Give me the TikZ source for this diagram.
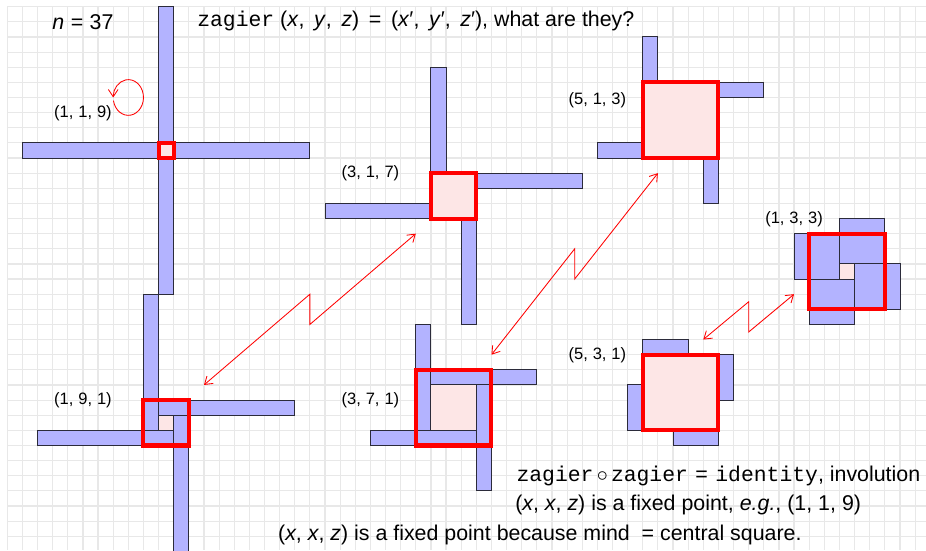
\documentclass[tikz,border=0pt]{standalone}
\usepackage{fontspec}
\setmainfont{Liberation Sans}
\setmonofont{Liberation Mono}
\usepackage{tikz}
\usetikzlibrary{arrows.meta,calc}
\definecolor{wmArm}{HTML}{B3B3FF}
\definecolor{wmCore}{HTML}{FDE6E6}
\definecolor{wmMind}{HTML}{FF0000}
\definecolor{wmEdge}{HTML}{2B2B3A}
\definecolor{wmGrid}{HTML}{E8E8E8}
\newcommand{\wmUnit}{0.5cm}
\newcommand{\va}[1]{\textit{#1}}
\newcommand{\cs}{,\hspace{.45em}}
\newcommand{\eqs}{\hspace{.45em}=\hspace{.45em}}
\newcommand{\trip}[3]{(#1,\hspace{.3em}#2,\hspace{.3em}#3)}
\newcommand{\nTxt}{\va{n}\hspace{.3em}=\hspace{.3em}37}
\newcommand{\headTxt}{\texttt{zagier} (\va{x}\cs\va{y}\cs\va{z})\eqs(\va{x}′\cs\va{y}′\cs\va{z}′), what are they?}
\newcommand{\invTxt}{\texttt{zagier}\hspace{.15em}$\circ$\hspace{.15em}\texttt{zagier}\hspace{.35em}=\hspace{.35em}\texttt{identity}, involution}
\newcommand{\fixTxt}{(\va{x}, \va{x}, \va{z}) is a fixed point, \textit{e.g.}, (1, 1, 9)}
\newcommand{\whyTxt}{(\va{x}, \va{x}, \va{z}) is a fixed point because mind\ \ = central square.}
% windmill: core corner a, b; then x, y, z; side of the red square
\newcommand{\windmill}[6]{%
  \fill[core] (#1,#2) rectangle ++(#3,#3);
  \draw[arm] (#1,#2) rectangle ++(#4,-#5);
  \draw[arm] (#1,#2+#3) rectangle ++(-#5,-#4);
  \draw[arm] (#1+#3,#2+#3) rectangle ++(-#4,#5);
  \draw[arm] (#1+#3,#2) rectangle ++(#5,#4);
  \draw[mind] (#1+#3/2-#6/2,#2+#3/2-#6/2) rectangle ++(#6,#6);
}

\begin{document}
\begin{tikzpicture}[
  x=\wmUnit, y=-\wmUnit,
  >={Straight Barb[length=2.4mm,width=3.2mm]},
  gridline/.style={draw=wmGrid, line width=1.1pt},
  core/.style={fill=wmCore},
  arm/.style={fill=wmArm, draw=wmEdge, line width=0.9pt},
  mind/.style={draw=wmMind, line width=3.8pt},
  flip/.style={draw=wmMind, line width=0.8pt},
  zap/.style={to path={
    -- ($(\tikztostart)!.5!(\tikztotarget)+(0,-1)$)
    -- ($(\tikztostart)!.5!(\tikztotarget)+(0,1)$)
    -- (\tikztotarget)}},
  tag/.style={font=\fontsize{15.5}{18}\selectfont, anchor=base},
  say/.style={font=\fontsize{20.1}{24}\selectfont, anchor=base}
]
\useasboundingbox (-0.4825,-0.4428) rectangle (60.72,35.91);

% ---- grid -----------------------------------------------------------------
\foreach \i in {0,...,60} \draw[gridline] (\i,0) -- (\i,35.91);
\foreach \j in {0,...,35} \draw[gridline] (0,\j) -- (60.72,\j);

% ---- windmills ------------------------------------------------------------
\windmill{10}{9}{1}{1}{9}{1}
\windmill{10}{27}{1}{9}{1}{3}
\windmill{28}{11}{3}{1}{7}{3}
\windmill{28}{25}{3}{7}{1}{5}
\windmill{42}{5}{5}{1}{3}{5}
\windmill{42}{23}{5}{3}{1}{5}
\windmill{55}{17}{1}{3}{3}{5}

% ---- labels ---------------------------------------------------------------
\node[tag] (t119) at (5,7.3)     {\trip{1}{1}{9}};
\node[tag] (t191) at (5,26.3)    {\trip{1}{9}{1}};
\node[tag] (t317) at (24,11.3)   {\trip{3}{1}{7}};
\node[tag] (t371) at (24,26.3)   {\trip{3}{7}{1}};
\node[tag] (t513) at (39,6.45)   {\trip{5}{1}{3}};
\node[tag] (t531) at (39,23.35)  {\trip{5}{3}{1}};
\node[tag] (t133) at (52,14.35)  {\trip{1}{3}{3}};

\node[say] (nval) at (5,1.5)     {\nTxt};
\node[say] (head) at (27,1.32)   {\headTxt};
\node[say] (inv)  at (47,31.4)   {\invTxt};
\node[say] (fix)  at (45,33.33)  {\fixTxt};
\node[say] (why)  at (35.2,35.3) {\whyTxt};

% ---- zagier pairs ---------------------------------------------------------
\coordinate (e191) at (13,25);
\coordinate (e317) at (27,15);
\coordinate (e371) at (32,23);
\coordinate (e513) at (43,11);
\coordinate (e531) at (46,22);
\coordinate (e133) at (52,19);
\coordinate (loop119) at (8,6);

\draw[flip,<->] (e191) to[zap] (e317);
\draw[flip,<->] (e371) to[zap] (e513);
\draw[flip,<->] (e531) to[zap] (e133);
\draw[flip,->] ($(loop119)+(170:1 and 1.18)$)
  arc[start angle=170, end angle=-180, x radius=1, y radius=1.18];

\end{tikzpicture}
\end{document}
